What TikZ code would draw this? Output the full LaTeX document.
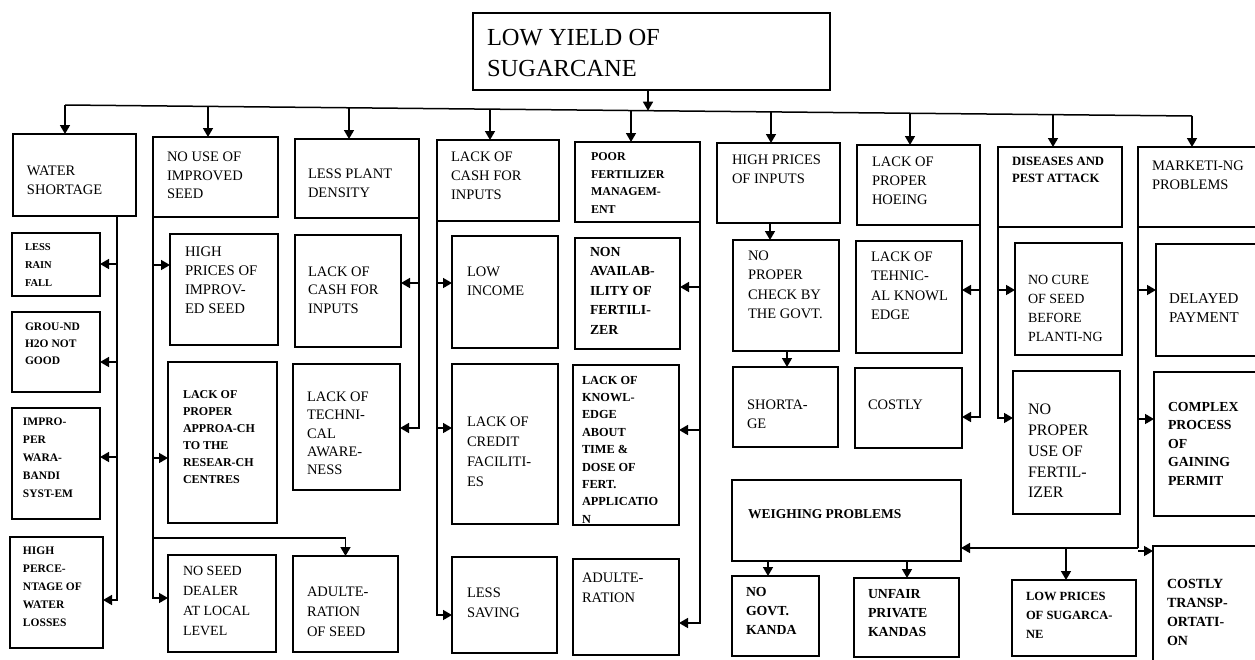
\documentclass[tikz,border=0pt]{standalone}
\usepackage{fontspec}
\setmainfont{Liberation Serif}
\usetikzlibrary{arrows.meta}
\newcommand\fz[2]{\fontsize{#1}{#2}\selectfont}
\newcommand\cbx[9]{%
  \pgfmathsetmacro\bw{#4-#2}\pgfmathsetmacro\bh{#5-#3}%
  \node[box, minimum width=\bw pt, minimum height=\bh pt] (#1) at (#2,#3) {};
  \node[txt, font={#8}] (#1t) at (#6,#7) {#9};}
\tikzset{
  box/.style={draw, line width=1.5pt, rectangle, anchor=north west, inner sep=0pt, outer sep=0pt},
  txt/.style={anchor=north west, inner sep=0pt, outer sep=0pt, align=left},
  ln/.style={line width=1.5pt},
  arr/.style={line width=1.5pt, -{Triangle[length=9pt,width=10pt]}}
}
\begin{document}
\begin{tikzpicture}[x=1pt,y=-1pt]
\useasboundingbox (0,0) rectangle (1255,659);
\clip (0,0) rectangle (1255,659);
\fill[white] (0,0) rectangle (1255,659);
% title
\cbx{ti}{473}{13}{830}{90}{487}{29}{\fz{24.5}{31}}{LOW YIELD OF\\SUGARCANE}
% level 1
\cbx{ws}{13}{134}{136}{216}{27}{166}{\fz{14.5}{19}}{WATER\\SHORTAGE}
\cbx{nu}{153}{137}{278}{217}{167}{152}{\fz{14.5}{18.5}}{NO USE OF\\IMPROVED\\SEED}
\cbx{lp}{295}{139}{419}{218}{308}{169}{\fz{14.5}{18.5}}{LESS PLANT\\DENSITY}
\cbx{lc}{437}{140}{559}{221}{451}{152}{\fz{14.5}{18.7}}{LACK OF\\CASH FOR\\INPUTS}
\cbx{pf}{575}{142}{700}{222}{591}{153}{\bfseries\fz{12}{17.4}}{POOR\\FERTILIZER\\MANAGEM-\\ENT}
\cbx{hp}{717}{143}{840}{223}{732}{155}{\fz{14.5}{19.3}}{HIGH PRICES\\OF INPUTS}
\cbx{lh}{857}{145}{980}{225}{872}{157}{\fz{14.5}{19}}{LACK OF\\PROPER\\HOEING}
\cbx{dp}{998}{147}{1122}{227}{1012}{157}{\bfseries\fz{12.7}{17}}{DISEASES AND\\PEST ATTACK}
\cbx{mp}{1138}{147}{1270}{227}{1152}{161}{\fz{14.5}{19}}{MARKETI-NG\\PROBLEMS}
% column 1
\cbx{a1}{12}{233}{100}{296}{25}{244}{\bfseries\fz{10.5}{18}}{LESS\\RAIN\\FALL}
\cbx{a2}{12}{312}{100}{392}{25}{323}{\bfseries\fz{11.5}{16.7}}{GROU-ND\\H2O NOT\\GOOD}
\cbx{a3}{12}{408}{100}{519}{23}{418}{\bfseries\fz{11.5}{17.9}}{IMPRO-\\PER\\WARA-\\BANDI\\SYST-EM}
\cbx{a4}{10}{537}{103}{648}{23}{547}{\bfseries\fz{11.5}{18}}{HIGH\\PERCE-\\NTAGE OF\\WATER\\LOSSES}
% column 2
\cbx{b1}{170}{234}{278}{345}{185}{247}{\fz{14.7}{19}}{HIGH\\PRICES OF\\IMPROV-\\ED SEED}
\cbx{b2}{168}{362}{277}{523}{183}{391}{\bfseries\fz{12}{17}}{LACK OF\\PROPER\\APPROA-CH\\TO THE\\RESEAR-CH\\CENTRES}
\cbx{b3}{168}{555}{276}{652}{183}{566}{\fz{14}{20}}{NO SEED\\DEALER\\AT LOCAL\\LEVEL}
\cbx{b4}{293}{556}{398}{652}{307}{587}{\fz{14.5}{20}}{ADULTE-\\RATION\\OF SEED}
% column 3
\cbx{c1}{295}{235}{401}{347}{308}{267}{\fz{14.5}{18.3}}{LACK OF\\CASH FOR\\INPUTS}
\cbx{c2}{293}{364}{400}{490}{307}{392}{\fz{14.5}{18.3}}{LACK OF\\TECHNI-\\CAL\\AWARE-\\NESS}
% column 4
\cbx{d1}{452}{236}{558}{348}{467}{267}{\fz{14.5}{19}}{LOW\\INCOME}
\cbx{d2}{452}{364}{558}{524}{467}{417}{\fz{14.5}{20}}{LACK OF\\CREDIT\\FACILITI-\\ES}
\cbx{d3}{452}{557}{557}{653}{467}{588}{\fz{14.5}{20}}{LESS\\SAVING}
% column 5
\cbx{e1}{575}{238}{680}{349}{590}{247}{\bfseries\fz{13.8}{19.5}}{NON\\AVAILAB-\\ILITY OF\\FERTILI-\\ZER}
\cbx{e2}{573}{365}{679}{525}{582}{376}{\bfseries\fz{12.3}{17.4}}{LACK OF\\KNOWL-\\EDGE\\ABOUT\\TIME \&\\DOSE OF\\FERT.\\APPLICATIO\\N}
\cbx{e3}{573}{559}{679}{655}{582}{573}{\fz{14.5}{20}}{ADULTE-\\RATION}
% column 6
\cbx{f1}{733}{240}{839}{351}{748}{251}{\fz{14.5}{19.2}}{NO\\PROPER\\CHECK BY\\THE GOVT.}
\cbx{f2}{733}{367}{838}{447}{747}{400}{\fz{14.5}{19.3}}{SHORTA-\\GE}
% column 7
\cbx{g1}{856}{241}{962}{353}{871}{252}{\fz{14.5}{19.3}}{LACK OF\\TEHNIC-\\AL KNOWL\\EDGE}
\cbx{g2}{855}{368}{962}{448}{868}{400}{\fz{14.5}{19}}{COSTLY}
% column 8
\cbx{h1}{1015}{243}{1122}{355}{1028}{275}{\fz{14}{19}}{NO CURE\\OF SEED\\BEFORE\\PLANTI-NG}
\cbx{h2}{1013}{371}{1120}{514}{1028}{404}{\fz{16}{20.8}}{NO\\PROPER\\USE OF\\FERTIL-\\IZER}
% column 9
\cbx{i1}{1156}{244}{1270}{356}{1169}{294}{\fz{15}{19}}{DELAYED\\PAYMENT}
\cbx{i2}{1154}{372}{1270}{516}{1168}{402}{\bfseries\fz{13.8}{18.5}}{COMPLEX\\PROCESS\\OF\\GAINING\\PERMIT}
\cbx{i3}{1153}{546}{1270}{690}{1167}{579}{\bfseries\fz{14}{19}}{COSTLY\\TRANSP-\\ORTATI-\\ON}
% weighing
\cbx{wp}{732}{480}{961}{561}{748}{510}{\bfseries\fz{13.5}{15}}{WEIGHING PROBLEMS}
\cbx{w1}{732}{576}{819}{656}{746}{587}{\bfseries\fz{13.8}{19}}{NO\\GOVT.\\KANDA}
\cbx{w2}{854}{578}{959}{657}{868}{589}{\bfseries\fz{13.8}{19}}{UNFAIR\\PRIVATE\\KANDAS}
\cbx{lps}{1012}{580}{1136}{656}{1026}{592}{\bfseries\fz{12.5}{19}}{LOW PRICES\\OF SUGARCA-\\NE}
% bus
\coordinate (k1) at (65,105);
\coordinate (k2) at (208,106.4);
\coordinate (k3) at (349,107.8);
\coordinate (k4) at (490,109.1);
\coordinate (k5) at (631,110.5);
\coordinate (kt) at (648,110.7);
\coordinate (k6) at (771,111.9);
\coordinate (k7) at (910,113.2);
\coordinate (k8) at (1053,114.6);
\coordinate (k9) at (1192,116);
\draw[ln] (k1) -- (k9);
\draw[arr] (ti.south -| kt) -- (kt);
\draw[arr] (k1) -- (k1 |- ws.north);
\draw[arr] (k2) -- (k2 |- nu.north);
\draw[arr] (k3) -- (k3 |- lp.north);
\draw[arr] (k4) -- (k4 |- lc.north);
\draw[arr] (k5) -- (k5 |- pf.north);
\draw[arr] (k6) -- (k6 |- hp.north);
\draw[arr] (k7) -- (k7 |- lh.north);
\draw[arr] (k8) -- (k8 |- dp.north);
\draw[arr] (k9) -- (k9 |- mp.north);
% column 1 trunk
\coordinate (t1) at (117,216);
\draw[arr] (t1) |- (a4.east |- 0,600);
\draw[arr] (t1 |- 0,264) -- (a1.east |- 0,264);
\draw[arr] (t1 |- 0,362) -- (a2.east |- 0,362);
\draw[arr] (t1 |- 0,457) -- (a3.east |- 0,457);
% column 2 trunk
\draw[arr] (nu.south west) |- (b3.west |- 0,598);
\draw[arr] (nu.south west |- 0,265) -- (b1.west |- 0,265);
\draw[arr] (nu.south west |- 0,458) -- (b2.west |- 0,458);
\coordinate (j2) at (153,538);
\draw[arr] (j2) -| (b4.north);
% column 3
\draw[arr] (lp.south east) |- (c2.east |- 0,428);
\draw[arr] (lp.south east |- 0,283) -- (c1.east |- 0,283);
% column 4
\draw[arr] (lc.south west) |- (d3.west |- 0,615);
\draw[arr] (lc.south west |- 0,283) -- (d1.west |- 0,283);
\draw[arr] (lc.south west |- 0,428) -- (d2.west |- 0,428);
% column 5
\draw[arr] (pf.south east) |- (e3.east |- 0,623);
\draw[arr] (pf.south east |- 0,287) -- (e1.east |- 0,287);
\draw[arr] (pf.south east |- 0,430) -- (e2.east |- 0,430);
% column 6
\draw[arr] (hp.south -| 770,0) -- (f1.north -| 770,0);
\draw[arr] (f1.south -| 787,0) -- (f2.north -| 787,0);
% column 7
\draw[arr] (lh.south east) |- (g2.east |- 0,417);
\draw[arr] (lh.south east |- 0,290) -- (g1.east |- 0,290);
% column 8
\draw[arr] (dp.south west) |- (h2.west |- 0,418);
\draw[arr] (dp.south west |- 0,290) -- (h1.west |- 0,290);
% column 9
\coordinate (j9) at (1138,548);
\draw[ln] (mp.south west) -- (j9);
\draw[arr] (mp.south west |- 0,290) -- (i1.west |- 0,290);
\draw[arr] (mp.south west |- 0,419) -- (i2.west |- 0,419);
\draw[arr] (j9) -- (wp.east |- j9);
\draw[arr] (j9 |- 0,551) -- (i3.west |- 0,551);
\coordinate (j10) at (1066,548);
\draw[arr] (j10) -- (j10 |- lps.north);
% weighing
\draw[arr] (wp.south -| 768,0) -- (w1.north -| 768,0);
\draw[arr] (wp.south -| 907,0) -- (w2.north -| 907,0);
\end{tikzpicture}
\end{document}
